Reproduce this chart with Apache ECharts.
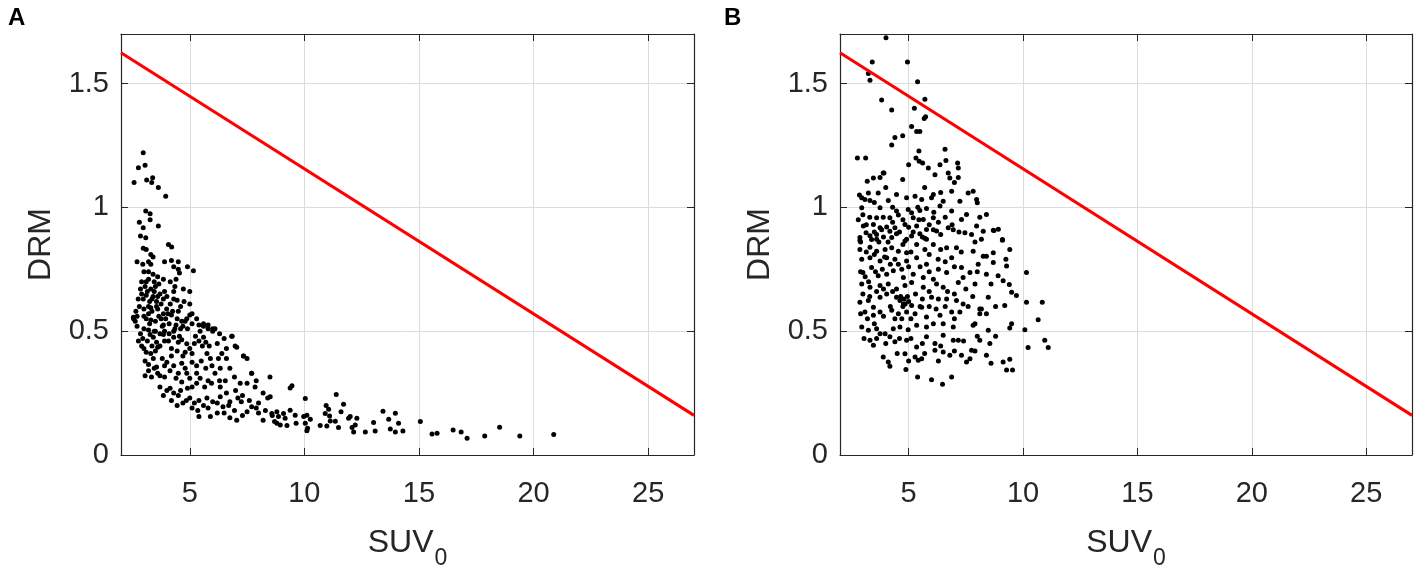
<!DOCTYPE html>
<html>
<head>
<meta charset="utf-8">
<script src="https://cdn.jsdelivr.net/npm/echarts@6.0.0/dist/echarts.min.js"></script>
<style>
  html, body { margin: 0; padding: 0; background: #fff; }
  #main { width: 1417px; height: 575px; }
</style>
</head>
<body>
<div id="main"></div>
<script>
// tick values and axis range
var xTicks = [5, 10, 15, 20, 25];
var yTicks = [0, 0.5, 1, 1.5];
var xRange = [2, 27];
var yRange = [0, 1.7];

// red threshold line (same in both panels)
var lineX = [2, 27];
var lineY = [1.624, 0.16];

// panel A: SUV0 vs DRM
var pointsA = [
  [2.97,1.22],[2.76,1.16],[3.05,1.17],[2.57,1.10],[3.12,1.11],[3.38,1.12],[3.34,1.10],[3.63,1.08],[3.95,1.045],
  [3.08,0.985],[3.27,0.974],[2.80,0.94],[3.27,0.95],[3.63,0.925],[2.97,0.918],[2.85,0.884],[3.08,0.877],
  [4.07,0.85],[4.21,0.84],[2.97,0.835],[3.1,0.83],[3.3,0.81],[3.4,0.80],[2.7,0.78],[2.95,0.77],[3.2,0.78],
  [3.9,0.78],[4.2,0.785],[4.5,0.78],[4.3,0.76],[4.9,0.76],
  [5.16,0.744],[4.5,0.75],[4.55,0.735],[3.2,0.74],[3.4,0.73],[2.9,0.70],[3.1,0.70],[3.45,0.70],[3.85,0.71],
  [4.15,0.70],[4.4,0.71],[4.35,0.68],[4.72,0.67],[5.0,0.66],[3.3,0.67],[3.45,0.66],[3.7,0.65],[3.1,0.645],
  [2.97,0.63],[3.35,0.63],[3.55,0.62],[3.85,0.63],[4.15,0.61],[4.45,0.625],[4.6,0.60],[3.99,0.59],[3.6,0.59],
  [3.0,0.59],[3.3,0.595],[2.8,0.60],[3.85,0.57],[4.2,0.565],[4.45,0.55],[5.0,0.565],[4.8,0.54],[5.1,0.53],
  [5.4,0.525],[5.6,0.52],[5.8,0.51],[6.0,0.51],[2.54,0.556],[2.7,0.56],[3.1,0.55],[3.3,0.545],[3.5,0.54],
  [3.85,0.525],[4.1,0.53],[4.35,0.51],[2.7,0.52],[3.0,0.51],[3.2,0.505],[3.5,0.50],[3.7,0.49],[3.9,0.50],[4.1,0.49],
  [3.15,0.66],[3.25,0.62],[3.4,0.64],[3.5,0.68],[3.05,0.68],[3.2,0.60],[3.6,0.64],[3.75,0.61],[3.35,0.58],
  [2.9,0.65],[3.0,0.56],[3.25,0.53],[3.65,0.56],[3.95,0.55],[4.25,0.58],[4.0,0.64],[4.3,0.66],[3.6,0.72],
  [3.3,0.77],[3.0,0.74],
  [2.55,0.55],[2.62,0.54],[5.0,0.61],[5.1,0.57],[5.3,0.55],[5.6,0.53],[5.8,0.525],[6.1,0.51],[4.87,0.55],
  [4.65,0.54],[4.4,0.525],[4.6,0.51],[4.9,0.51],
  [2.76,0.46],[2.9,0.44],[3.0,0.43],[3.1,0.415],[3.55,0.455],[3.6,0.435],[3.27,0.487],[3.41,0.475],[3.85,0.487],
  [4.07,0.46],[4.3,0.475],[4.5,0.455],[4.65,0.465],[4.87,0.449],[5.0,0.43],[4.8,0.415],[5.1,0.41],[5.25,0.48],
  [5.4,0.46],[5.6,0.475],[5.7,0.455],[5.85,0.44],[6.0,0.50],[5.75,0.41],[5.9,0.39],[6.25,0.39],[6.4,0.41],
  [6.6,0.43],[6.85,0.48],[7.05,0.435],[7.35,0.40],[7.5,0.39],[6.6,0.39],[6.75,0.35],[6.33,0.35],[5.97,0.36],
  [5.3,0.36],[5.1,0.375],[4.87,0.33],[4.65,0.37],[4.3,0.36],[4.0,0.375],[3.8,0.39],[3.41,0.39],[3.55,0.355],
  [3.2,0.365],[3.05,0.32],[3.33,0.315],[3.7,0.32],[3.9,0.315],[4.14,0.34],[4.4,0.31],[4.65,0.295],[5.0,0.31],
  [5.1,0.275],[5.45,0.31],[5.65,0.275],[5.95,0.29],[6.33,0.275],[6.55,0.30],[6.95,0.315],[7.2,0.29],[7.5,0.29],
  [7.7,0.33],[7.9,0.30],[8.5,0.315],[7.85,0.275],[8.2,0.25],[8.4,0.23],[3.7,0.275],[3.85,0.24],[4.14,0.27],
  [4.5,0.24],[4.7,0.21],[5.0,0.23],[5.2,0.21],[5.4,0.22],[5.6,0.20],[5.75,0.23],[6.0,0.215],[6.33,0.235],
  [6.45,0.195],[6.75,0.215],[6.95,0.18],[7.25,0.215],[7.5,0.175],[7.7,0.195],[8.0,0.17],[8.3,0.18],[8.6,0.16],
  [8.8,0.175],[7.05,0.14],[6.75,0.15],[6.2,0.17],[5.4,0.155],[8.2,0.14],[8.7,0.135],
  [7.7,0.33],[7.34,0.40],[6.98,0.44],[6.83,0.48],
  [2.85,0.49],[2.95,0.47],[3.15,0.46],[3.35,0.44],[3.5,0.42],[3.7,0.44],[3.9,0.46],[4.2,0.43],[4.45,0.42],
  [4.7,0.40],[4.2,0.40],[3.9,0.36],[3.6,0.33],[3.45,0.35],[3.2,0.34],[3.05,0.38],[3.3,0.41],[4.5,0.33],
  [4.8,0.35],[5.3,0.33],[5.5,0.38],[5.7,0.35],[6.1,0.33],[6.3,0.30],[5.8,0.30],[5.3,0.29],[4.9,0.27],
  [4.6,0.26],[4.3,0.25],[4.0,0.26],[4.2,0.22],[4.45,0.20],[4.85,0.22],[5.1,0.19],[5.35,0.18],[5.8,0.19],
  [6.2,0.21],[6.6,0.25],[7.0,0.26],[7.3,0.24],[7.6,0.22],[8.0,0.21],[7.9,0.19],[6.5,0.17],[7.3,0.16],
  [5.9,0.155],[6.7,0.2],[7.1,0.23],[5.55,0.44],[6.2,0.45],[6.5,0.47],[5.2,0.45],[4.55,0.48],[4.3,0.50],
  [5.45,0.5],[6.3,0.49],[3.75,0.55],[4.05,0.57],[4.5,0.58],[4.75,0.62],[4.3,0.63],[3.9,0.66],[3.65,0.69],
  [3.2,0.71],[2.85,0.67],[2.75,0.63],[2.65,0.58],[3.45,0.5],[3.8,0.52],[4.7,0.52],[3.2,0.57],[3.55,0.6],
  [8.51,0.235],[8.58,0.168],[8.87,0.155],[9.09,0.168],[9.16,0.148],[9.38,0.181],[9.6,0.161],[8.8,0.128],
  [8.95,0.121],[9.24,0.119],[9.64,0.128],[9.38,0.271],[9.46,0.28],[9.97,0.155],[10.04,0.228],[10.11,0.161],
  [10.26,0.144],[10.04,0.128],[10.14,0.108],[10.11,0.098],[10.69,0.119],[10.91,0.168],[10.95,0.2],[11.06,0.185],
  [11.1,0.157],[10.98,0.117],[11.13,0.137],[11.35,0.136],[11.39,0.244],[11.49,0.111],[11.6,0.175],[11.71,0.205],
  [11.93,0.148],[12.0,0.155],[12.08,0.111],[12.15,0.093],[12.22,0.121],[12.29,0.148],[12.66,0.093],[13.02,0.131],
  [13.09,0.097],[13.43,0.177],[13.68,0.144],[13.75,0.105],[13.97,0.169],[13.97,0.093],[14.11,0.128],[14.3,0.097],
  [15.06,0.135],[15.57,0.085],[15.79,0.088],[16.49,0.101],[16.84,0.093],[17.1,0.068],[17.87,0.077],[18.52,0.112],
  [19.4,0.077],[20.88,0.083]
];

// panel B: SUV0 vs DRM
var pointsB = [
  [4.01,1.685],[3.41,1.587],[4.95,1.587],[3.24,1.54],[3.31,1.513],[5.39,1.507],[5.71,1.437],[3.82,1.433],
  [4.26,1.393],[5.25,1.40],[5.68,1.359],[5.74,1.366],[5.13,1.326],[5.35,1.306],[5.49,1.306],[4.4,1.282],
  [4.74,1.289],[4.26,1.252],[5.45,1.228],[6.59,1.235],[2.76,1.199],[3.12,1.199],[5.32,1.199],[5.61,1.179],
  [5.0,1.172],[5.46,1.186],[6.63,1.189],[6.37,1.172],[7.14,1.179],[5.86,1.159],[3.89,1.139],[3.19,1.105],
  [3.46,1.119],[3.75,1.121],[3.92,1.139],[4.74,1.112],[6.15,1.132],[6.73,1.139],[6.8,1.119],[7.17,1.159],
  [7.17,1.121],[2.95,1.039],[3.09,1.032],[3.31,1.028],[3.24,1.058],[3.67,1.058],[4.47,1.052],[4.91,1.039],
  [5.28,1.045],[5.57,1.032],[6.0,1.039],[6.08,1.052],[6.51,1.025],[6.88,1.065],[7.24,1.025],[7.6,1.058],
  [7.82,1.065],[7.97,1.032],[8.0,1.019],[4.11,1.028],[2.95,0.998],[3.75,0.998],[4.47,0.985],[4.98,0.991],
  [5.13,0.978],[5.49,0.987],[5.78,0.995],[6.37,1.005],[6.88,0.985],[7.53,0.971],[8.11,0.96],[8.4,0.971],
  [3.6,0.958],[3.89,0.96],[4.18,0.958],[4.55,0.969],[5.2,0.958],[5.64,0.951],[6.08,0.958],[7.31,0.951],
  [3.02,0.925],[3.46,0.931],[3.75,0.918],[4.04,0.921],[4.4,0.918],[4.84,0.931],[5.35,0.925],[5.78,0.911],
  [6.22,0.905],[6.73,0.918],[7.97,0.925],[8.7,0.908],[8.92,0.912],[2.87,0.878],[3.31,0.885],[3.6,0.871],
  [4.26,0.878],[4.91,0.871],[5.78,0.871],[8.18,0.871],[9.1,0.867],
  [2.87,0.866],[3.14,0.897],[3.38,0.87],[3.6,0.89],[3.82,0.91],[4.18,0.904],[4.47,0.893],[4.84,0.864],
  [5.13,0.884],[5.49,0.893],[5.71,0.875],[6.08,0.91],[6.4,0.89],[6.95,0.91],[7.46,0.897],[7.75,0.89],
  [8.26,0.904],[8.73,0.907],[9.1,0.87],[2.87,0.83],[3.31,0.839],[3.6,0.823],[3.97,0.83],[4.26,0.837],
  [4.55,0.823],[4.91,0.817],[5.35,0.85],[5.71,0.83],[6.08,0.85],[6.66,0.837],[7.09,0.837],[7.82,0.823],
  [8.26,0.803],[8.7,0.817],[8.4,0.803],[9.42,0.83],[2.95,0.79],[3.31,0.797],[3.75,0.783],[4.04,0.797],
  [4.55,0.77],[4.91,0.783],[5.35,0.797],[5.78,0.77],[6.29,0.79],[6.88,0.797],[7.31,0.757],[8.04,0.77],
  [8.7,0.777],[9.25,0.79],[9.28,0.763],[10.15,0.737],[3.0,0.737],[3.38,0.757],[3.67,0.724],[4.04,0.73],
  [4.33,0.744],[4.77,0.717],[5.2,0.73],[5.64,0.717],[6.08,0.71],[6.66,0.737],[7.38,0.717],[7.68,0.737],
  [8.4,0.73],[8.91,0.724],[9.13,0.704],[9.4,0.688],[2.95,0.69],[3.31,0.677],[3.75,0.684],[4.11,0.69],
  [4.47,0.67],[4.84,0.684],[5.13,0.697],[5.64,0.677],[6.22,0.69],[6.51,0.677],[7.17,0.697],[9.5,0.657],
  [9.71,0.644],[2.87,0.617],[3.24,0.624],[3.46,0.597],[3.75,0.637],[4.04,0.65],[4.47,0.637],[4.62,0.624],
  [4.77,0.61],[5.13,0.604],[5.57,0.597],[6.0,0.637],[6.66,0.63],[7.09,0.624],[7.38,0.61],[8.11,0.59],
  [8.48,0.637],[9.2,0.604],[10.15,0.617],[10.84,0.617],[3.09,0.577],[3.46,0.564],[3.75,0.577],[4.26,0.584],
  [4.55,0.57],[4.91,0.577],[5.28,0.57],[5.78,0.557],[6.37,0.564],[6.88,0.577],[7.24,0.577],[7.9,0.53],
  [8.11,0.57],[8.18,0.59],[9.5,0.53],[10.66,0.546],[2.95,0.517],[3.24,0.504],[3.6,0.51],[3.97,0.49],
  [4.33,0.51],[4.62,0.517],[4.98,0.506],[5.35,0.524],[5.78,0.517],[6.08,0.53],[6.51,0.53],[6.95,0.517],
  [7.82,0.524],[8.48,0.504],[9.42,0.513],[10.08,0.506],[3.31,0.463],[3.46,0.443],[3.75,0.49],[4.18,0.477],
  [4.4,0.457],[4.91,0.463],[5.35,0.436],[5.78,0.477],[6.15,0.45],[6.51,0.484],[6.95,0.463],[7.17,0.463],
  [7.75,0.423],[8.11,0.463],[8.55,0.45],[10.22,0.434],[10.95,0.463],[11.1,0.434],[3.89,0.396],[4.11,0.376],
  [4.18,0.358],[4.84,0.409],[4.88,0.345],[5.28,0.396],[5.42,0.383],[5.57,0.389],[6.15,0.423],[6.51,0.416],
  [6.8,0.403],[7.31,0.403],[7.53,0.376],[7.68,0.389],[8.4,0.403],[9.13,0.376],[9.42,0.387],[9.28,0.343],
  [9.54,0.343],[5.39,0.315],[6.0,0.304],[6.48,0.286],[6.88,0.315],
  [2.8,0.95],[2.85,1.05],[3.0,0.97],[3.15,0.93],[3.3,0.96],[3.5,0.9],[3.7,0.86],[3.9,0.88],[4.1,0.86],
  [4.3,0.94],[4.6,0.9],[4.75,0.95],[5.0,0.92],[5.2,0.9],[5.45,0.95],[5.6,0.88],[5.9,0.93],[6.1,0.98],
  [6.3,0.94],[6.6,0.96],[6.9,0.93],[7.2,0.9],[2.9,0.74],[3.1,0.72],[3.25,0.7],[3.55,0.74],[3.85,0.75],
  [4.2,0.77],[4.4,0.79],[4.7,0.75],[5.0,0.76],[5.5,0.76],[5.9,0.74],[6.3,0.75],[6.6,0.78],[7.0,0.76],
  [3.0,0.65],[3.3,0.64],[3.6,0.66],[3.9,0.67],[4.3,0.66],[4.65,0.64],[4.8,0.63],[4.85,0.61],[4.95,0.64],
  [4.75,0.6],[5.0,0.62],[5.3,0.65],[5.6,0.63],[5.9,0.66],[6.3,0.63],[6.7,0.66],[7.0,0.65],[7.5,0.67],
  [7.9,0.69],[2.9,0.57],[3.2,0.55],[3.5,0.53],[3.9,0.56],[4.2,0.6],[4.4,0.55],[4.7,0.55],[5.1,0.55],
  [5.5,0.6],[5.9,0.6],[6.2,0.59],[6.6,0.6],[7.0,0.55],[7.6,0.6],[8.4,0.57],[8.8,0.6],[3.05,0.47],
  [3.6,0.47],[4.0,0.45],[4.6,0.47],[5.1,0.47],[5.6,0.45],[6.4,0.44],[7.4,0.46],[8.0,0.48],[8.8,0.48],
  [4.5,0.41],[5.0,0.38],[5.7,0.41],[6.3,0.38],[7.0,0.42],[7.9,0.42],[8.6,0.37],[4.3,1.0],[5.4,1.0],
  [6.4,1.06],[7.0,1.1],[5.7,1.08],[4.0,1.08],[3.5,1.02],[2.9,0.86],[3.15,0.82],[3.5,0.81],[3.95,0.8],
  [4.75,0.85],[5.1,0.82],[5.9,0.81],[6.4,0.83],[7.3,0.82],[7.9,0.86],[8.0,0.74],[8.6,0.69],[7.8,0.64]
];

var chart = echarts.init(document.getElementById('main'));

var textColor = '#262626';
var font = 'Liberation Sans, Arial, Helvetica, sans-serif';

function bottomAxis(grid) {
  return {
    type: 'value', gridIndex: grid, position: 'bottom',
    min: xRange[0], max: xRange[1],
    name: '{a|SUV}{b|0}', nameLocation: 'middle', nameGap: 72,
    nameTextStyle: {
      rich: {
        a: { fontSize: 32, fontFamily: font, color: textColor, verticalAlign: 'top', lineHeight: 34 },
        b: { fontSize: 23, fontFamily: font, color: textColor, verticalAlign: 'top', lineHeight: 24, padding: [20, 0, 0, 1] }
      }
    },
    axisLine: { show: true, onZero: false, lineStyle: { color: textColor, width: 1.2 } },
    axisTick: { show: true, inside: true, length: 7, customValues: xTicks, lineStyle: { color: textColor } },
    axisLabel: { customValues: xTicks, fontSize: 29, fontFamily: font, color: textColor, margin: 24 },
    splitLine: { show: true, lineStyle: { color: '#dcdcdc', width: 1 } }
  };
}
function topAxis(grid) {
  return {
    type: 'value', gridIndex: grid, position: 'top',
    min: xRange[0], max: xRange[1],
    axisLine: { show: true, onZero: false, lineStyle: { color: textColor, width: 1.2 } },
    axisTick: { show: true, inside: true, length: 7, customValues: xTicks, lineStyle: { color: textColor } },
    axisLabel: { show: false, customValues: xTicks },
    splitLine: { show: false }
  };
}
function leftAxis(grid) {
  return {
    type: 'value', gridIndex: grid, position: 'left',
    min: yRange[0], max: yRange[1],
    name: 'DRM', nameLocation: 'middle', nameGap: 64, nameRotate: 90,
    nameTextStyle: { fontSize: 32, fontFamily: font, color: textColor },
    axisLine: { show: true, onZero: false, lineStyle: { color: textColor, width: 1.2 } },
    axisTick: { show: true, inside: true, length: 7, customValues: yTicks, lineStyle: { color: textColor } },
    axisLabel: { customValues: yTicks, fontSize: 29, fontFamily: font, color: textColor, margin: 12 },
    splitLine: { show: true, lineStyle: { color: '#dcdcdc', width: 1 } }
  };
}
function rightAxis(grid) {
  return {
    type: 'value', gridIndex: grid, position: 'right',
    min: yRange[0], max: yRange[1],
    axisLine: { show: true, onZero: false, lineStyle: { color: textColor, width: 1.2 } },
    axisTick: { show: true, inside: true, length: 7, customValues: yTicks, lineStyle: { color: textColor } },
    axisLabel: { show: false, customValues: yTicks },
    splitLine: { show: false }
  };
}

var redLine = lineX.map(function (x, i) { return [x, lineY[i]]; });

chart.setOption({
  backgroundColor: '#fff',
  animation: false,
  graphic: [
    { type: 'text', left: 8, top: 6, style: { text: 'A', fontSize: 24, fontWeight: 'bold', fontFamily: font, fill: '#000' } },
    { type: 'text', left: 724, top: 6, style: { text: 'B', fontSize: 24, fontWeight: 'bold', fontFamily: font, fill: '#000' } }
  ],
  grid: [
    { left: 121, top: 34, width: 573, height: 424 },
    { left: 840, top: 34, width: 572, height: 424 }
  ],
  xAxis: [bottomAxis(0), topAxis(0), bottomAxis(1), topAxis(1)],
  yAxis: [leftAxis(0), rightAxis(0), leftAxis(1), rightAxis(1)],
  series: [
    {
      type: 'scatter', xAxisIndex: 0, yAxisIndex: 0, data: pointsA,
      symbolSize: 5, itemStyle: { color: '#000', opacity: 1 }
    },
    {
      type: 'line', xAxisIndex: 0, yAxisIndex: 0, data: redLine,
      showSymbol: false, lineStyle: { color: '#ff0000', width: 3 }
    },
    {
      type: 'scatter', xAxisIndex: 2, yAxisIndex: 2, data: pointsB,
      symbolSize: 5, itemStyle: { color: '#000', opacity: 1 }
    },
    {
      type: 'line', xAxisIndex: 2, yAxisIndex: 2, data: redLine,
      showSymbol: false, lineStyle: { color: '#ff0000', width: 3 }
    }
  ]
});
</script>
</body>
</html>
